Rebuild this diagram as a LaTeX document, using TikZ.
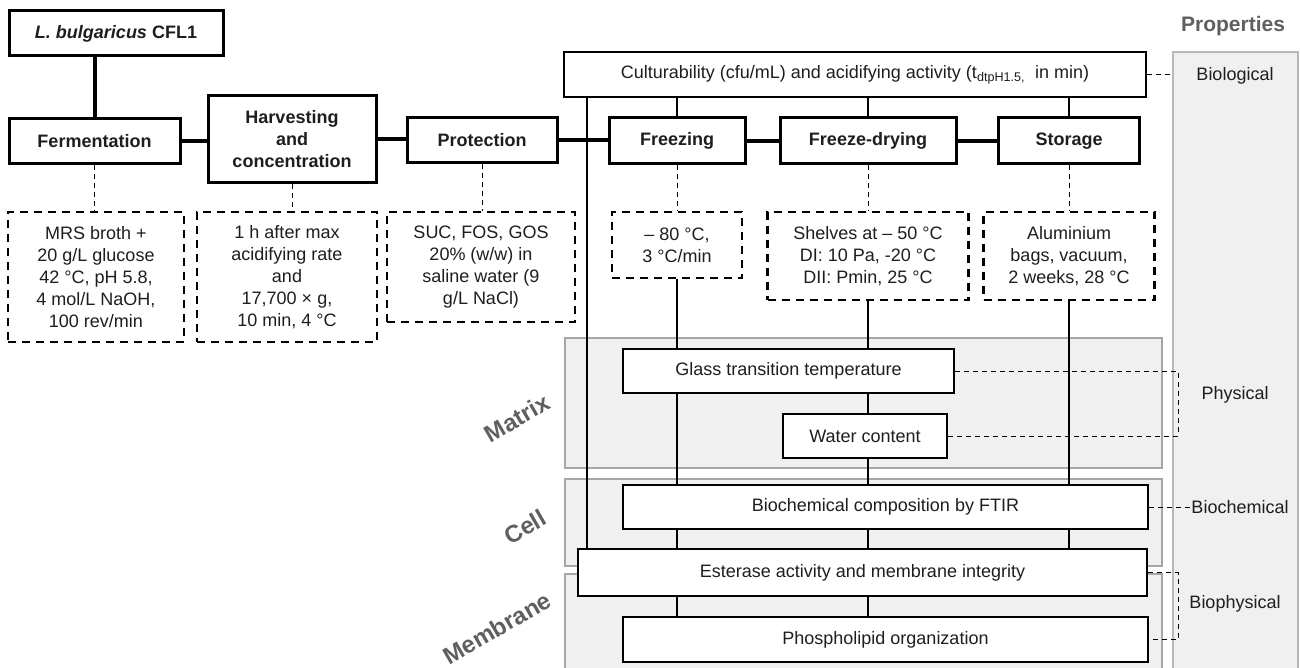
\documentclass[tikz,border=0pt]{standalone}
\usepackage{fontspec}
\setmainfont{Liberation Sans}
\usetikzlibrary{calc}
\pgfdeclarelayer{back}
\pgfdeclarelayer{mid}
\pgfsetlayers{back,mid,main}
\definecolor{grayfill}{HTML}{F0F0F0}
\definecolor{grayedge}{HTML}{A6A6A6}
\definecolor{labelgray}{HTML}{5F5F5F}
\definecolor{txt}{HTML}{1E1E1E}
\begin{document}
\begin{tikzpicture}[x=1pt,y=-1pt,
  font=\fontsize{18}{22}\selectfont, text=txt,
  mainbox/.style={draw=black, line width=3pt, fill=white, inner sep=0pt, align=center,
    font=\fontsize{18}{22}\selectfont\bfseries},
  measbox/.style={draw=black, line width=2.6pt, fill=white, inner sep=0pt, align=center},
  dashbox/.style={draw=black, line width=2.6pt, dash pattern=on 8pt off 6pt, fill=white,
    inner sep=0pt, align=center},
  graypanel/.style={draw=grayedge, line width=1.5pt, fill=grayfill},
  thickconn/.style={line width=4pt},
  thinconn/.style={line width=1.3pt},
  dashconn/.style={line width=1pt, dash pattern=on 5pt off 4pt},
  proplabel/.style={font=\fontsize{18}{22}\selectfont, inner sep=1pt},
  levellabel/.style={font=\fontsize{24}{28}\selectfont\bfseries, text=labelgray, rotate=30, inner sep=0pt},
]
\useasboundingbox (0,0) rectangle (1300,668);

% top flow
\node[mainbox, minimum width=214pt, minimum height=45pt] (lb) at (116,33.5) {\textit{L. bulgaricus} CFL1};
\node[mainbox, minimum width=171pt, minimum height=45pt] (ferm) at (94.5,141.5) {Fermentation};
\node[mainbox, minimum width=168pt, minimum height=87pt] (harv) at (292,139.5) {Harvesting\\and\\concentration};
\node[mainbox, minimum width=150pt, minimum height=45pt] (prot) at (482,140.5) {Protection};
\node[mainbox, minimum width=136pt, minimum height=46pt] (freez) at (677,141) {Freezing};
\node[mainbox, minimum width=176pt, minimum height=46pt] (fd) at (868,141) {Freeze-drying};
\node[mainbox, minimum width=141pt, minimum height=46pt] (stor) at (1069,141) {Storage};
\node[draw=black, line width=2pt, fill=white, minimum width=582pt, minimum height=45pt, inner sep=0pt] (cult) at (855,74.5)
  {Culturability (cfu/mL) and acidifying activity (t\textsubscript{dtpH1.5,}\ \ in min)};

% conditions
\node[dashbox, minimum width=176pt, minimum height=130pt] (mrs) at (96,277)
  {MRS broth +\\20 g/L glucose\\42 °C, pH 5.8,\\4 mol/L NaOH,\\100 rev/min};
\node[dashbox, minimum width=180pt, minimum height=130pt] (harvd) at (287,277)
  {1 h after max\\acidifying rate\\and\\17,700 × g,\\10 min, 4 °C};
\node[dashbox, minimum width=188pt, minimum height=110pt] (sucd) at (481,267)
  {SUC, FOS, GOS\\20\% (w/w) in\\saline water (9\\g/L NaCl)};
\node[dashbox, minimum width=130pt, minimum height=66pt] (freezd) at (677,245)
  {– 80 °C,\\3 °C/min};
\node[dashbox, minimum width=201pt, minimum height=88pt] (fdd) at (868,256)
  {Shelves at – 50 °C\\DI: 10 Pa, -20 °C\\DII: Pmin, 25 °C};
\node[dashbox, minimum width=171pt, minimum height=88pt] (stord) at (1069,256)
  {Aluminium\\bags, vacuum,\\2 weeks, 28 °C};

% measurements
\node[measbox, minimum width=331pt, minimum height=44pt] (glass) at (788.5,371) {Glass transition temperature};
\node[measbox, minimum width=164pt, minimum height=44pt] (water) at (865,436) {Water content};
\node[measbox, minimum width=525pt, minimum height=44pt] (bioc) at (885.5,507) {Biochemical composition by FTIR};
\node[measbox, minimum width=569pt, minimum height=47pt] (ester) at (862.5,572.5) {Esterase activity and membrane integrity};
\node[measbox, minimum width=525pt, minimum height=45pt] (phos) at (885.5,639.5) {Phospholipid organization};

% background panels
\coordinate (propnw) at (1173,52);
\begin{pgfonlayer}{back}
\draw[graypanel] (565,338) rectangle (1162,468);
\draw[graypanel] (565,479) rectangle (1162,566);
\draw[graypanel] (565,574) rectangle (1162,690);
\draw[graypanel, draw=grayedge!80] (propnw) rectangle (1298,690);
\end{pgfonlayer}

% labels
\node[font=\fontsize{21}{25}\selectfont\bfseries, text=labelgray] (tprop) at (1233,26) {Properties};
\node[proplabel] (tbiol) at (1235,76) {Biological};
\node[proplabel] (tphys) at (1235,395) {Physical};
\node[proplabel] (tbioc) at (1240,507) {Biochemical};
\node[proplabel] (tbiop) at (1235,604) {Biophysical};
\node[levellabel] (lmatrix) at (517,418) {Matrix};
\node[levellabel] (lcell) at (525,527) {Cell};
\node[levellabel] (lmemb) at (497,628) {Membrane};

% connectors
\coordinate (cvtop) at ($(cult.south west)+(24,0)$);
\coordinate (bx) at (1178,0);
\begin{pgfonlayer}{mid}
\draw[thickconn] (ferm.north) -- (ferm.north |- lb.south);
\draw[thickconn] (ferm.east) -- (ferm.east -| harv.west);
\draw[thickconn] (harv.east) -- (harv.east -| prot.west);
\draw[thickconn] (prot.east) -- (prot.east -| freez.west);
\draw[thickconn] (freez.east) -- (freez.east -| fd.west);
\draw[thickconn] (fd.east) -- (fd.east -| stor.west);

\draw[thinconn] (freez.north) -- (freez.north |- cult.south);
\draw[thinconn] (fd.north) -- (fd.north |- cult.south);
\draw[thinconn] (stor.north) -- (stor.north |- cult.south);
\draw[thinconn] (cvtop) -- (cvtop |- ester.north);

\draw[thinconn] (freezd.south) -- (freezd.south |- phos.north);
\draw[thinconn] (fdd.south) -- (fdd.south |- phos.north);
\draw[thinconn] (stord.south) -- (stord.south |- ester.north);

\draw[dashconn] (ferm.south) -- (ferm.south |- mrs.north);
\draw[dashconn] (harv.south) -- (harv.south |- harvd.north);
\draw[dashconn] (prot.south) -- (prot.south |- sucd.north);
\draw[dashconn] (freez.south) -- (freez.south |- freezd.north);
\draw[dashconn] (fd.south) -- (fd.south |- fdd.north);
\draw[dashconn] (stor.south) -- (stor.south |- stord.north);

\draw[dashconn] (cult.east) -- (cult.east -| propnw);
\draw[dashconn] (glass.east) -- (glass.east -| bx) -- (water.east -| bx) -- (water.east);
\draw[dashconn] (bioc.east) -- (tbioc.west);
\draw[dashconn] (ester.east) -- (ester.east -| bx) -- (phos.east -| bx) -- (phos.east);
\end{pgfonlayer}
\end{tikzpicture}
\end{document}
